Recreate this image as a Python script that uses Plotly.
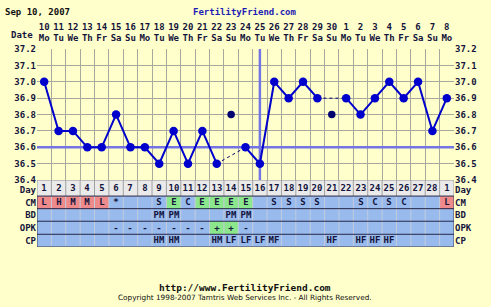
import plotly.graph_objects as go

# ---------------- data ----------------
dates = ["10", "11", "12", "13", "14", "15", "16", "17", "18", "19", "20", "21", "22", "23", "24",
         "25", "26", "27", "28", "29", "30", "1", "2", "3", "4", "5", "6", "7", "8"]
weekdays = ["Mo", "Tu", "We", "Th", "Fr", "Sa", "Su", "Mo", "Tu", "We", "Th", "Fr", "Sa", "Su", "Mo",
            "Tu", "We", "Th", "Fr", "Sa", "Su", "Mo", "Tu", "We", "Th", "Fr", "Sa", "Su", "Mo"]
cycle_days = ["1", "2", "3", "4", "5", "6", "7", "8", "9", "10", "11", "12", "13", "14", "15",
              "16", "17", "18", "19", "20", "21", "22", "23", "24", "25", "26", "27", "28", "1"]
temps = [37.0, 36.7, 36.7, 36.6, 36.6, 36.8, 36.6, 36.6, 36.5, 36.7, 36.5, 36.7, 36.5, 36.8, 36.6,
         36.5, 37.0, 36.9, 37.0, 36.9, 36.8, 36.9, 36.8, 36.9, 37.0, 36.9, 37.0, 36.7, 36.9]
discarded_days = [14, 21]
coverline = 36.6
ovulation_day = 16
temp_ticks = [36.4, 36.5, 36.6, 36.7, 36.8, 36.9, 37.0, 37.1, 37.2]

cm = ["L", "H", "M", "M", "L", "*", "", "", "S", "E", "C", "E", "E", "E", "E",
      "", "S", "S", "S", "S", "", "", "S", "C", "S", "C", "", "", "L"]
bd = ["", "", "", "", "", "", "", "", "PM", "PM", "", "", "", "PM", "PM",
      "", "", "", "", "", "", "", "", "", "", "", "", "", ""]
opk = ["", "", "", "", "", "-", "-", "-", "-", "-", "-", "-", "+", "+", "-",
       "", "", "", "", "", "", "", "", "", "", "", "", "", ""]
cp = ["", "", "", "", "", "", "", "", "HM", "HM", "", "", "HM", "LF", "LF",
      "LF", "MF", "", "", "", "HF", "", "HF", "HF", "HF", "", "", "", ""]
row_names = ["Day", "CM", "BD", "OPK", "CP"]

# ---------------- styling ----------------
BG = "#FFFFCC"
GRID = "#A8A89C"
BLUE = "#0000CC"
NAVY = "#000070"
TXT = "#14143C"
FONT = "DejaVu Sans Mono"
W, H = 491, 307
PX_L, PX_R = 37, 454
PX_TOP, PX_TBL, PX_BOT = 45.5, 181, 250
ROW_EDGES = [181, 197.5, 210.5, 223.5, 237, 250]
ROW_LABEL_POS = [191, 204, 217, 230.25, 243.5]

n = len(temps)
xs = list(range(1, n + 1))

fig = go.Figure()

# table (heatmap)
def code(row, v):
    if row == "Day":
        return 3
    if row == "CM" and v in ("L", "H", "M"):
        return 1
    if (row == "CM" and v == "E") or (row == "OPK" and v == "+"):
        return 2
    return 0

rows = [cycle_days, cm, bd, opk, cp]
z = [[code(name, v) for v in r] for name, r in zip(row_names, rows)]
fig.add_trace(go.Heatmap(
    x=xs, y=ROW_EDGES, z=z, text=rows, texttemplate="%{text}",
    textfont=dict(family=FONT, size=9, color=TXT, weight="bold"),
    colorscale=[[0, "#98BAEC"], [0.25, "#98BAEC"], [0.25, "#EE8A8A"], [0.5, "#EE8A8A"],
                [0.5, "#8CE68C"], [0.75, "#8CE68C"], [0.75, "#EAEAEA"], [1, "#EAEAEA"]],
    zmin=-0.5, zmax=3.5, showscale=False, hoverinfo="skip",
    xaxis="x", yaxis="y2"))

# temperature line with gaps at discarded days
main_y = [None if d in discarded_days else t for d, t in zip(xs, temps)]
bridge_x, bridge_y = [], []
for d in discarded_days:
    bridge_x += [d - 1, d + 1, None]
    bridge_y += [temps[d - 2], temps[d], None]
fig.add_trace(go.Scatter(x=bridge_x, y=bridge_y, mode="lines",
                         line=dict(color=NAVY, width=1, dash="3px,3px"),
                         hoverinfo="skip", xaxis="x", yaxis="y"))
fig.add_trace(go.Scatter(x=xs, y=main_y, mode="lines+markers", connectgaps=False,
                         line=dict(color=BLUE, width=2),
                         marker=dict(color=BLUE, size=8.5),
                         xaxis="x", yaxis="y"))
fig.add_trace(go.Scatter(x=discarded_days, y=[temps[d - 1] for d in discarded_days],
                         mode="markers", marker=dict(color=NAVY, size=7.5),
                         xaxis="x", yaxis="y"))
# invisible traces for right-hand axes
fig.add_trace(go.Scatter(x=[1], y=[36.8], mode="markers", marker=dict(opacity=0),
                         hoverinfo="skip", xaxis="x", yaxis="y3"))
fig.add_trace(go.Scatter(x=[1], y=[200], mode="markers", marker=dict(opacity=0),
                         hoverinfo="skip", xaxis="x", yaxis="y4"))

# reference lines
shapes = [
    dict(type="line", xref="x", yref="y", x0=0.5, x1=n + 0.5, y0=coverline, y1=coverline,
         line=dict(color="#7474E4", width=2.5), layer="between"),
    dict(type="line", xref="x", yref="y", x0=ovulation_day, x1=ovulation_day,
         y0=temp_ticks[0], y1=temp_ticks[-1], line=dict(color="#7474E4", width=2.5), layer="between"),
]
# table separators
for i in range(n + 1):
    xb = i + 0.5
    shapes.append(dict(type="line", xref="x", yref="y2", x0=xb, x1=xb, y0=ROW_EDGES[0], y1=ROW_EDGES[1],
                       line=dict(color="#A0A0A0", width=1)))
    shapes.append(dict(type="line", xref="x", yref="y2", x0=xb, x1=xb, y0=ROW_EDGES[1], y1=ROW_EDGES[-1],
                       line=dict(color="#C4CCDC" if 0 < i < n else "#404060", width=1)))
for j, e in enumerate(ROW_EDGES):
    shapes.append(dict(type="line", xref="x", yref="y2", x0=0.5, x1=n + 0.5, y0=e, y1=e,
                       line=dict(color="#A0A0A0" if j == 0 else "#28284A", width=1)))
fig.update_layout(shapes=shapes)

tdom = [1 - PX_TBL / H, 1 - PX_TOP / H]
bdom = [1 - PX_BOT / H, 1 - PX_TBL / H]
xdom = [PX_L / W, PX_R / W]
tickfont = dict(family=FONT, size=9, color=TXT, weight="bold")

fig.update_layout(
    width=W, height=H, autosize=False,
    margin=dict(l=0, r=0, t=0, b=0),
    paper_bgcolor=BG, plot_bgcolor=BG, showlegend=False,
    xaxis=dict(domain=xdom, range=[0.5, n + 0.5], side="top", anchor="y",
               tickmode="array", tickvals=xs,
               ticktext=[f"{d}<br>{w}" for d, w in zip(dates, weekdays)],
               tickfont=tickfont, ticks="", showgrid=False, zeroline=False,
               ticklabelstandoff=5,
               minor=dict(tickmode="linear", tick0=0.5, dtick=1, showgrid=True,
                          gridcolor=GRID, gridwidth=1, ticks="")),
    yaxis=dict(domain=tdom, range=[temp_ticks[0], temp_ticks[-1]], anchor="x",
               tickmode="array", tickvals=temp_ticks, ticktext=[f"{t:.1f}" for t in temp_ticks],
               tickfont=tickfont, ticks="", showgrid=False, zeroline=False,
               minor=dict(tickmode="array", tickvals=temp_ticks[:-1], showgrid=True,
                          gridcolor=GRID, gridwidth=1, ticks="")),
    yaxis3=dict(overlaying="y", side="right", anchor="x", range=[temp_ticks[0], temp_ticks[-1]],
                tickmode="array", tickvals=temp_ticks, ticktext=[f"{t:.1f}" for t in temp_ticks],
                tickfont=tickfont, ticks="", showgrid=False, zeroline=False),
    yaxis2=dict(domain=bdom, range=[PX_BOT, PX_TBL], anchor="x",
                tickmode="array", tickvals=ROW_LABEL_POS, ticktext=row_names,
                tickfont=tickfont, ticks="", showgrid=False, zeroline=False),
    yaxis4=dict(overlaying="y2", side="right", anchor="x", range=[PX_BOT, PX_TBL],
                tickmode="array", tickvals=ROW_LABEL_POS, ticktext=row_names,
                tickfont=tickfont, ticks="", showgrid=False, zeroline=False),
)

fig.add_annotation(text="Sep 10, 2007", xref="paper", yref="paper", x=3 / W, y=1 - 7 / H,
                   xanchor="left", yanchor="middle", showarrow=False,
                   font=dict(family=FONT, size=9, color="#101010", weight="bold"))
fig.add_annotation(text="FertilityFriend.com", xref="paper", yref="paper", x=245 / W, y=1 - 7 / H,
                   xanchor="center", yanchor="middle", showarrow=False,
                   font=dict(family=FONT, size=9, color="#1C1CB4", weight="bold"))
fig.add_annotation(text="Date", xref="paper", yref="paper", x=35 / W, y=1 - 31 / H,
                   xanchor="right", yanchor="middle", showarrow=False, font=tickfont)
fig.add_annotation(text="http://www.FertilityFriend.com", xref="paper", yref="paper",
                   x=245 / W, y=1 - 292 / H, xanchor="center", yanchor="middle", showarrow=False,
                   font=dict(family=FONT, size=9.5, color="#101010", weight="bold"))
fig.add_annotation(text="Copyright 1998-2007 Tamtris Web Services Inc. - All Rights Reserved.",
                   xref="paper", yref="paper", x=245 / W, y=1 - 302 / H, xanchor="center",
                   yanchor="middle", showarrow=False,
                   font=dict(family="DejaVu Sans", size=7.3, color="#101010"))

fig.write_html("out.html")
